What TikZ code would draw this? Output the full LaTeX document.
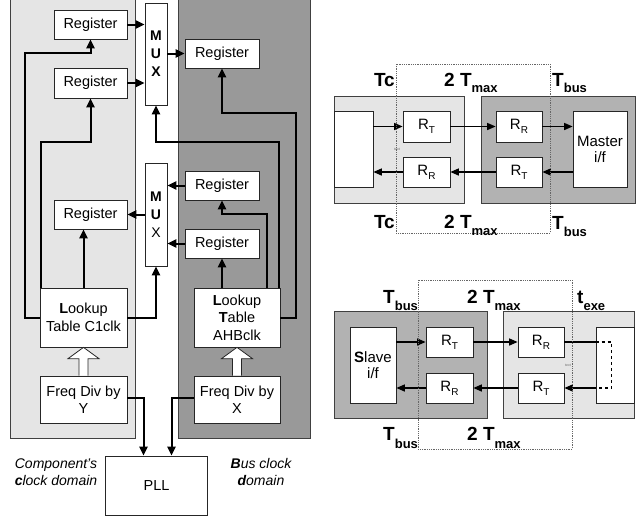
\documentclass[tikz,border=0pt]{standalone}
\usepackage{fontspec}
\setmainfont{Liberation Sans}
\usetikzlibrary{arrows.meta,calc}
\newcommand\lsub[2]{\raisebox{-#1}{\fontsize{13}{13}\selectfont #2}}
\newcommand\rsub[1]{\raisebox{-4pt}{\fontsize{10}{10}\selectfont #1}}
\begin{document}
\begin{tikzpicture}[x=1pt,y=-1pt,
  box/.style={draw=black!85, fill=white, line width=0.7pt, inner sep=0pt, align=center, font=\fontsize{14.5}{17.5}\selectfont},
  muxbox/.style={box, font=\bfseries\fontsize{14}{18}\selectfont},
  rbox/.style={box, font=\fontsize{15}{16}\selectfont},
  conn/.style={line width=2pt, -{Triangle[length=9pt,width=8pt]}},
  rconn/.style={line width=1.4pt, -{Triangle[length=8.5pt,width=7pt]}},
  rline/.style={line width=1.4pt},
  hollow/.style={draw=black!85, fill=white, line width=0.8pt, line join=miter},
  lightpanel/.style={draw=black!75, fill=black!10, line width=0.7pt},
  darkpanel/.style={draw=black!75, fill=black!40, line width=0.7pt},
  midpanel/.style={draw=black!75, fill=black!30, line width=0.7pt},
  dotbox/.style={draw=black!60, densely dotted, line width=0.8pt},
  lab/.style={inner sep=0pt, font=\bfseries\fontsize{19}{19}\selectfont},
  note/.style={inner sep=0pt, align=center, font=\itshape\fontsize{14}{16.5}\selectfont},
  tiny/.style={inner sep=0pt, text=black!60, font=\fontsize{3.5}{4}\selectfont}
]
\clip (0,0) rectangle (640,520);
\fill[white] (0,0) rectangle (640,520);

% ---------------- left diagram ----------------
\draw[lightpanel] (10,-5) rectangle (135,438);
\draw[darkpanel] (178,-5) rectangle (310,438);

\node[box, minimum width=73, minimum height=29] (r1) at (90.5,24.5) {Register};
\node[box, minimum width=73, minimum height=30] (r2) at (90.5,83) {Register};
\node[muxbox, minimum width=22, minimum height=102] (mux1) at (156,54) {M\\U\\X};
\node[box, minimum width=74, minimum height=29] (rrt) at (222,53.5) {Register};
\node[muxbox, minimum width=22, minimum height=103] (mux2) at (156,214.5) {M\\U\\\mdseries X};
\node[box, minimum width=74, minimum height=29] (rrm) at (222,185.5) {Register};
\node[box, minimum width=74, minimum height=29] (rrl) at (222,243.5) {Register};
\node[box, minimum width=73, minimum height=29] (rll) at (90.5,214.5) {Register};
\node[box, minimum width=87, minimum height=59] (lc) at (83.5,317.5) {\textbf{L}ookup\\Table C1clk};
\node[box, minimum width=86, minimum height=59] (la) at (237,317.5) {\textbf{L}ookup\\\textbf{T}able\\AHBclk};
\node[box, minimum width=87, minimum height=47] (fy) at (83.5,399.5) {Freq Div by\\Y};
\node[box, minimum width=86, minimum height=47] (fx) at (237,399.5) {Freq Div by\\X};
\node[box, minimum width=102, minimum height=59] (pll) at (156.5,485.5) {PLL};

% register to mux connectors
\draw[conn] (r1.east) -- (r1.east -| mux1.west);
\draw[conn] (r2.east) -- (r2.east -| mux1.west);
\draw[conn] (rrt.west -| mux1.east) -- (rrt.west);
\draw[conn] (mux2.west |- rll.east) -- (rll.east);
\draw[conn] (rrm.west) -- (rrm.west -| mux2.east);
\draw[conn] (rrl.west) -- (rrl.west -| mux2.east);

% lookup C1clk
\draw[conn] (lc.west) -- ++(-15,0) |- ([yshift=-14pt]r1.south) -- (r1.south);
\draw[conn] ([xshift=1pt]lc.north west) |- ([yshift=-44pt]r2.south) -- (r2.south);
\draw[conn] (lc.north) -- (lc.north |- rll.south);
\draw[conn] (lc.east) -| (mux2.south);

% lookup AHBclk
\draw[conn] (la.north -| rrl.south) -- (rrl.south);
\draw[conn] ([xshift=30pt]la.north) |- ([yshift=-14pt]rrm.south) -- (rrm.south);
\draw[conn] ([xshift=-1pt]la.north east) |- ([yshift=-37pt]mux1.south) -- (mux1.south);
\draw[conn] (la.east) -- ++(16,0) |- ([yshift=-45pt]rrt.south) -- (rrt.south);

% hollow arrows
\draw[hollow] ($(fy.north)+(-4.5,0)$) -- ($(fy.north)+(-4.5,-17)$) -- ($(fy.north)+(-15.5,-17)$) -- (lc.south) -- ($(fy.north)+(15.5,-17)$) -- ($(fy.north)+(4.5,-17)$) -- ($(fy.north)+(4.5,0)$);
\draw[hollow] ($(fx.north)+(-4.5,0)$) -- ($(fx.north)+(-4.5,-17)$) -- ($(fx.north)+(-15.5,-17)$) -- (la.south) -- ($(fx.north)+(15.5,-17)$) -- ($(fx.north)+(4.5,-17)$) -- ($(fx.north)+(4.5,0)$);

% freq dividers to PLL
\draw[conn] ([yshift=2pt]fy.east) -| ([xshift=-13pt]pll.north);
\draw[conn] ([yshift=2pt]fx.west) -| ([xshift=15pt]pll.north);

\node[note] (cdom) at (56,472) {Component's\\\textbf{c}lock domain};
\node[note] (bdom) at (261,472) {\textbf{B}us clock\\\textbf{d}omain};

% ---------------- top right diagram ----------------
\draw[lightpanel] (334,96) rectangle (464,203);
\draw[midpanel] (481,96) rectangle (635,203);
\node[rbox, minimum width=39, minimum height=76] (ta) at (353.5,149) {};
\node[rbox, minimum width=47, minimum height=31] (trt1) at (426.5,126.5) {R\rsub{T}};
\node[rbox, minimum width=47, minimum height=30] (trr1) at (426.5,172) {R\rsub{R}};
\node[rbox, minimum width=46, minimum height=31] (trr2) at (519,126.5) {R\rsub{R}};
\node[rbox, minimum width=46, minimum height=30] (trt2) at (519,172) {R\rsub{T}};
\node[rbox, minimum width=54, minimum height=76] (tm) at (600,149) {Master\\i/f};
\draw[rconn] (ta.east |- trt1.west) -- (trt1.west);
\draw[rconn] (trt1.east) -- (trr2.west);
\draw[rconn] (trr2.east) -- (trr2.east -| tm.west);
\draw[rconn] (trt2.east -| tm.west) -- (trt2.east);
\draw[rconn] (trt2.west) -- (trr1.east);
\draw[rconn] (trr1.west) -- (trr1.west -| ta.east);
\draw[dotbox] (396,64) rectangle (550,233);
\node[tiny] (tt1) at (397,149) {text};
\node[lab, anchor=base east] (tc1) at (395,86) {Tc};
\node[lab, anchor=base west] (tx1) at (444,86) {2 T\lsub{6pt}{max}};
\node[lab, anchor=base west] (tb1) at (552,86) {T\lsub{6pt}{bus}};
\node[lab, anchor=base east] (tc2) at (395,228) {Tc};
\node[lab, anchor=base west] (tx2) at (444,228) {2 T\lsub{7pt}{max}};
\node[lab, anchor=base west] (tb2) at (552,229) {T\lsub{7pt}{bus}};

% ---------------- bottom right diagram ----------------
\draw[midpanel] (334,311) rectangle (487,418);
\draw[lightpanel] (503,311) rectangle (634,418);
\node[rbox, minimum width=46, minimum height=76] (bs) at (373,365) {\textbf{S}lave\\i/f};
\node[rbox, minimum width=47, minimum height=30] (brt1) at (449.5,342) {R\rsub{T}};
\node[rbox, minimum width=47, minimum height=30] (brr1) at (449.5,388) {R\rsub{R}};
\node[rbox, minimum width=46, minimum height=30] (brr2) at (541,342) {R\rsub{R}};
\node[rbox, minimum width=46, minimum height=30] (brt2) at (541,388) {R\rsub{T}};
\node[rbox, minimum width=38, minimum height=76] (bw) at (615,365) {};
\draw[rconn] (bs.east |- brt1.west) -- (brt1.west);
\draw[rconn] (brt1.east) -- (brr2.west);
\coordinate (d1) at (bw.west |- brr2.east);
\coordinate (d2) at (bw.west |- brt2.east);
\draw[rline] (brr2.east) -- (d1);
\draw[rline, dashed] (d1) -- ++(16,0) |- (d2);
\draw[rconn] (d2) -- (brt2.east);
\draw[rconn] (brt2.west) -- (brr1.east);
\draw[rconn] (brr1.west) -- (brr1.west -| bs.east);
\draw[dotbox] (418,280) rectangle (572,449);
\node[tiny] (tt2) at (568,365) {text};
\node[lab, anchor=base west] (bb1) at (383,303) {T\lsub{7pt}{bus}};
\node[lab, anchor=base west] (bx1) at (467,303) {2 T\lsub{7pt}{max}};
\node[lab, anchor=base west] (be1) at (577,303) {t\lsub{7pt}{exe}};
\node[lab, anchor=base west] (bb2) at (383,440) {T\lsub{8pt}{bus}};
\node[lab, anchor=base west] (bx2) at (467,440) {2 T\lsub{8pt}{max}};
\end{tikzpicture}
\end{document}
